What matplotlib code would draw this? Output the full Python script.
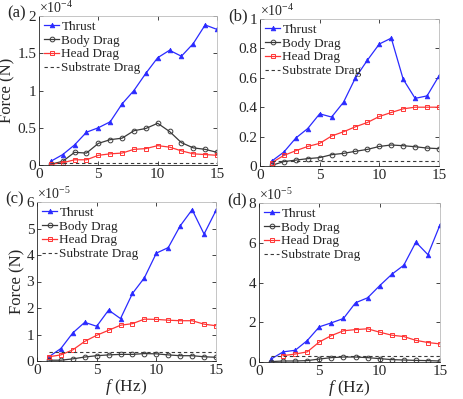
import matplotlib
matplotlib.use("Agg")
import matplotlib.pyplot as plt

plt.rcParams['font.family'] = 'serif'
plt.rcParams['font.serif'] = ['Liberation Serif', 'DejaVu Serif']
plt.rcParams['mathtext.fontset'] = 'custom'
plt.rcParams['mathtext.rm'] = 'Liberation Serif'
plt.rcParams['mathtext.it'] = 'Liberation Serif:italic'

freq = [1, 2, 3, 4, 5, 6, 7, 8, 9, 10, 11, 12, 13, 14, 15]

# Panel (a), units of 1e-4 N
thrust_a = [0.05, 0.14, 0.27, 0.44, 0.50, 0.58, 0.82, 1.00, 1.23, 1.44, 1.54, 1.46, 1.63, 1.88, 1.82]
body_a = [0.01, 0.05, 0.17, 0.16, 0.29, 0.34, 0.36, 0.46, 0.49, 0.56, 0.45, 0.30, 0.23, 0.21, 0.17]
head_a = [0.01, 0.03, 0.07, 0.07, 0.13, 0.15, 0.16, 0.21, 0.22, 0.26, 0.24, 0.19, 0.15, 0.14, 0.13]
subst_a = 0.03

# Panel (b), units of 1e-4 N
thrust_b = [0.034, 0.095, 0.19, 0.255, 0.355, 0.333, 0.434, 0.60, 0.72, 0.83, 0.87, 0.59, 0.46, 0.477, 0.613]
body_b = [0.005, 0.03, 0.04, 0.05, 0.057, 0.077, 0.086, 0.10, 0.113, 0.133, 0.143, 0.138, 0.131, 0.122, 0.118]
head_b = [0.023, 0.072, 0.104, 0.133, 0.154, 0.204, 0.233, 0.267, 0.296, 0.337, 0.364, 0.389, 0.40, 0.40, 0.40]
subst_b = 0.032

# Panel (c), units of 1e-5 N
thrust_c = [0.16, 0.47, 1.06, 1.46, 1.31, 1.92, 1.60, 2.55, 3.14, 4.07, 4.28, 5.10, 5.71, 4.79, 5.68]
body_c = [0.03, 0.03, 0.08, 0.15, 0.20, 0.23, 0.25, 0.25, 0.28, 0.27, 0.23, 0.20, 0.20, 0.16, 0.14]
head_c = [0.16, 0.23, 0.42, 0.74, 0.97, 1.16, 1.35, 1.41, 1.58, 1.57, 1.54, 1.52, 1.52, 1.39, 1.33]
subst_c = 0.33

# Panel (d), units of 1e-5 N
thrust_d = [0.15, 0.51, 0.59, 1.08, 1.77, 1.97, 2.19, 2.98, 3.23, 3.84, 4.41, 4.87, 6.03, 5.40, 6.90]
body_d = [0.02, 0.05, 0.05, 0.07, 0.15, 0.22, 0.25, 0.25, 0.22, 0.17, 0.12, 0.10, 0.08, 0.07, 0.05]
freq_head_d = [2, 3, 4, 5, 6, 7, 8, 9, 10, 11, 12, 13, 14, 15]
head_d = [0.32, 0.40, 0.51, 1.01, 1.33, 1.57, 1.63, 1.67, 1.50, 1.35, 1.28, 1.09, 0.98, 0.91]
subst_d = 0.32

panels = [
    dict(label='(a)', exp='-4', thrust=thrust_a, body=body_a, head=head_a, hx=freq, subst=subst_a,
         ylim=(0, 2), yticks=[0, 0.5, 1, 1.5, 2], yticklabels=['0', '0.5', '1', '1.5', '2'],
         pos=(39, 16, 217, 165), ylabel=True, xlabel=False),
    dict(label='(b)', exp='-4', thrust=thrust_b, body=body_b, head=head_b, hx=freq, subst=subst_b,
         ylim=(0, 1), yticks=[0, 0.2, 0.4, 0.6, 0.8, 1], yticklabels=['0', '0.2', '0.4', '0.6', '0.8', '1'],
         pos=(260, 19, 439, 166), ylabel=False, xlabel=False),
    dict(label='(c)', exp='-5', thrust=thrust_c, body=body_c, head=head_c, hx=freq, subst=subst_c,
         ylim=(0, 6), yticks=[0, 1, 2, 3, 4, 5, 6], yticklabels=['0', '1', '2', '3', '4', '5', '6'],
         pos=(37, 202, 216, 361), ylabel=True, xlabel=True),
    dict(label='(d)', exp='-5', thrust=thrust_d, body=body_d, head=head_d, hx=freq_head_d, subst=subst_d,
         ylim=(0, 8), yticks=[0, 2, 4, 6, 8], yticklabels=['0', '2', '4', '6', '8'],
         pos=(259, 203, 440, 362), ylabel=False, xlabel=True),
]

W, H = 463, 399
fig = plt.figure(figsize=(W / 100, H / 100), dpi=100)
dark = '#262626'

for p in panels:
    l, t, r, b = p['pos']
    ax = fig.add_axes([l / W, (H - b) / H, (r - l) / W, (b - t) / H])
    ax.plot(freq, p['thrust'], '-^', color='#2a2aff', lw=0.9, ms=3.4, mfc='#2a2aff', mew=0.5, label='Thrust')
    ax.plot(freq, p['body'], '-o', color='#3a3a3a', lw=0.9, ms=3.4, mfc='none', mew=0.7, label='Body Drag')
    ax.plot(p['hx'], p['head'], '-s', color='#ff3535', lw=0.9, ms=3.1, mfc='none', mew=0.7, label='Head Drag')
    ax.plot([freq[0], freq[-1]], [p['subst'], p['subst']], '--', color='#3a3a3a', lw=0.8,
            dashes=(3, 2.5), label='Substrate Drag')
    ax.set_xlim(0, 15)
    ax.set_ylim(*p['ylim'])
    ax.set_xticks([0, 5, 10, 15])
    ax.set_yticks(p['yticks'])
    ax.set_yticklabels(p['yticklabels'])
    ax.tick_params(direction='in', top=True, right=True, labelsize=11, length=3, width=0.6,
                   colors=dark, pad=2)
    for s in ['top', 'right']:
        ax.spines[s].set_color('#bbbbbb')
        ax.spines[s].set_linewidth(0.6)
    for s in ['left', 'bottom']:
        ax.spines[s].set_color(dark)
        ax.spines[s].set_linewidth(0.6)
    leg = ax.legend(loc='upper left', frameon=False, fontsize=9.5, handlelength=1.2,
                    handletextpad=0.15, labelspacing=0.12, borderaxespad=0.3,
                    borderpad=0.05)
    for txt in leg.get_texts():
        txt.set_color(dark)
    if p['ylabel']:
        ax.set_ylabel('Force (N)', fontsize=12, color=dark, labelpad=1)
    if p['xlabel']:
        ax.set_xlabel(r'$f$ (Hz)', fontsize=12.5, color=dark, labelpad=0)
    ax.text(0.0, 1.0, r'$\times10^{' + p['exp'] + '}$', transform=ax.transAxes,
            fontsize=10, color=dark, ha='left', va='bottom')
    fig.text((l - 32) / W, 1 - (t - 3) / H, p['label'], fontsize=12, color=dark,
             ha='left', va='center')

fig.savefig('out.png', dpi=100)
